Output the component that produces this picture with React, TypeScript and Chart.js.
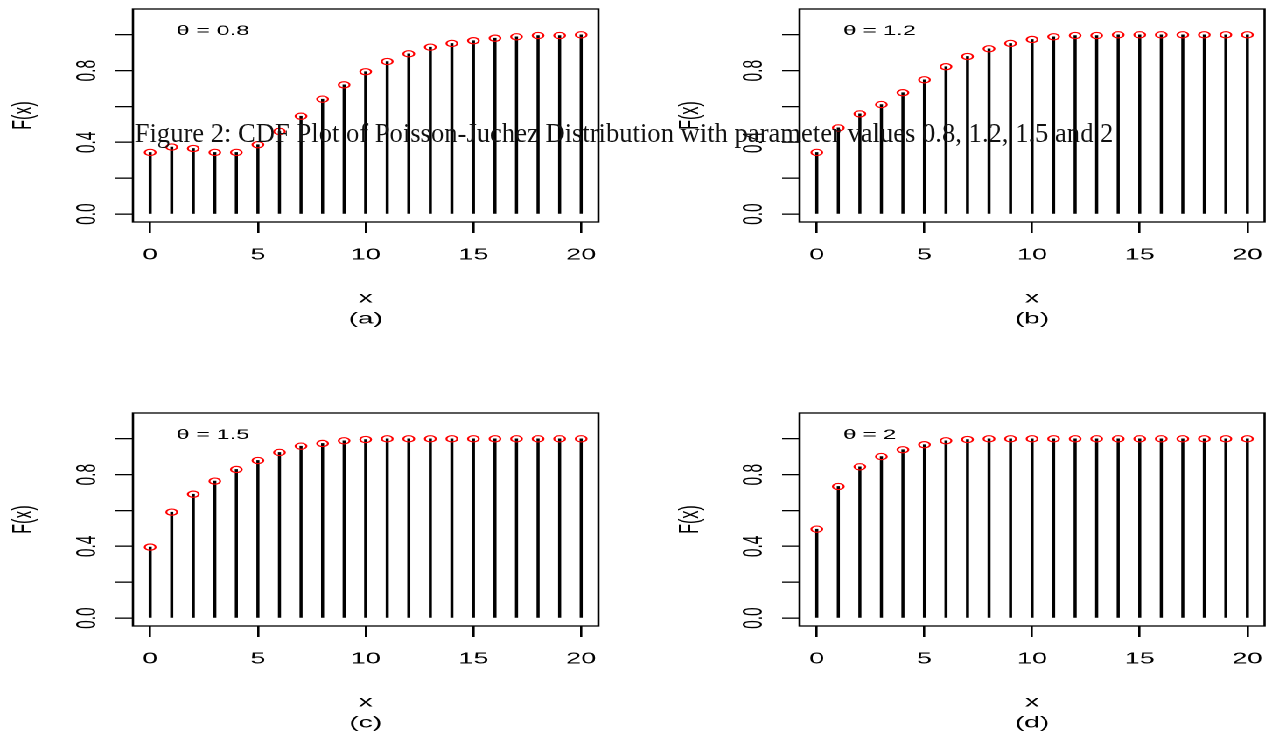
import React, { useEffect, useRef } from 'react';
import { Chart, registerables } from 'chart.js';

Chart.register(...registerables);

// ---------- data ----------
const xValues = [0, 1, 2, 3, 4, 5, 6, 7, 8, 9, 10, 11, 12, 13, 14, 15, 16, 17, 18, 19, 20];
const cdfTheta08 = [0.344, 0.374, 0.366, 0.344, 0.344, 0.387, 0.461, 0.546, 0.641, 0.721, 0.794, 0.851, 0.894, 0.931, 0.952, 0.967, 0.981, 0.989, 0.996, 0.996, 1.0];
const cdfTheta12 = [0.344, 0.481, 0.559, 0.611, 0.677, 0.749, 0.822, 0.879, 0.922, 0.952, 0.974, 0.989, 0.996, 0.996, 1.0, 1.0, 1.0, 1.0, 1.0, 1.0, 1.0];
const cdfTheta15 = [0.396, 0.591, 0.691, 0.764, 0.829, 0.879, 0.924, 0.959, 0.974, 0.989, 0.996, 1.0, 1.0, 1.0, 1.0, 1.0, 1.0, 1.0, 1.0, 1.0, 1.0];
const cdfTheta2 = [0.496, 0.734, 0.844, 0.901, 0.939, 0.967, 0.989, 0.996, 1.0, 1.0, 1.0, 1.0, 1.0, 1.0, 1.0, 1.0, 1.0, 1.0, 1.0, 1.0, 1.0];
const thetaLabels = ['0.8', '1.2', '1.5', '2'];
const panelLetters = ['(a)', '(b)', '(c)', '(d)'];
const xTickValues = [0, 5, 10, 15, 20];
const yTickValues = [0, 0.2, 0.4, 0.6, 0.8, 1.0];
const yTickLabels = ['0.0', '', '0.4', '', '0.8', ''];
const xAxisTitle = 'x';
const yAxisTitle = 'F(x)';
const figureTitle = 'Figure 2: CDF Plot of Poisson-Juchez Distribution with parameter values 0.8, 1.2, 1.5 and 2';

// ---------- layout ----------
const NATIVE_W = 727;
const STRETCH = 1272 / NATIVE_W;
const SANS = "'Liberation Sans', Arial, Helvetica, sans-serif";
const SERIF = "'Liberation Serif', 'Times New Roman', Times, serif";

const panelSeries = [cdfTheta08, cdfTheta12, cdfTheta15, cdfTheta2];
const panelPos = [
  { left: 0, top: 0, width: 350, padRight: 8 },
  { left: 381, top: 0, width: 346, padRight: 4 },
  { left: 0, top: 404, width: 350, padRight: 8 },
  { left: 381, top: 404, width: 346, padRight: 4 },
];
const PANEL_H = 330;

type PanelProps = {
  values: number[];
  theta: string;
  letter: string;
  left: number;
  top: number;
  width: number;
  padRight: number;
};

function zeroPad(s: any) {
  s.paddingTop = 0;
  s.paddingBottom = 0;
  s.paddingLeft = 0;
  s.paddingRight = 0;
}

function Panel({ values, theta, letter, left, top, width, padRight }: PanelProps) {
  const ref = useRef<HTMLCanvasElement | null>(null);

  useEffect(() => {
    const canvas = ref.current;
    if (!canvas) return;

    const boxPlugin = {
      id: 'rbox',
      afterDatasetsDraw(chart: any) {
        const { ctx, chartArea: a, scales } = chart;
        ctx.save();
        ctx.strokeStyle = '#000';
        ctx.lineWidth = 1.3;
        ctx.strokeRect(a.left, a.top, a.right - a.left, a.bottom - a.top);
        ctx.fillStyle = '#000';
        ctx.font = `13.5px ${SANS}`;
        ctx.textAlign = 'left';
        ctx.textBaseline = 'middle';
        ctx.fillText(`\u03b8 = ${theta}`, scales.x.getPixelForValue(1.22), scales.y.getPixelForValue(1.02));
        ctx.restore();
      },
    };

    const points = xValues.map((x, i) => ({ x, y: values[i] }));

    const chart = new Chart(canvas, {
      type: 'bar',
      data: {
        datasets: [
          {
            type: 'scatter',
            data: points,
            pointStyle: 'circle',
            pointRadius: 3.1,
            pointHoverRadius: 3.1,
            pointBorderWidth: 1.15,
            pointBorderColor: '#ff0000',
            pointBackgroundColor: 'rgba(0,0,0,0)',
            order: 0,
          } as any,
          {
            type: 'bar',
            data: points,
            backgroundColor: '#000',
            borderWidth: 0,
            barThickness: 1.1,
            order: 1,
          } as any,
        ],
      },
      options: {
        animation: false,
        responsive: true,
        maintainAspectRatio: false,
        devicePixelRatio: 2,
        events: [],
        layout: { padding: { left: 0, top: 9, right: padRight, bottom: 0.5 } },
        plugins: { legend: { display: false }, tooltip: { enabled: false } },
        scales: {
          x: {
            type: 'linear',
            min: -0.8,
            max: 20.8,
            bounds: 'data',
            offset: false,
            afterBuildTicks: (s: any) => {
              s.ticks = xTickValues.map((v) => ({ value: v }));
            },
            afterFit: (s: any) => {
              s.height = 107.5;
              zeroPad(s);
            },
            grid: { drawOnChartArea: false, drawTicks: true, tickLength: 11, color: '#000', lineWidth: 1.3, offset: false },
            border: { display: false },
            ticks: {
              autoSkip: false,
              minRotation: 0,
              maxRotation: 0,
              padding: 12.7,
              color: '#000',
              font: { family: SANS, size: 15.5 },
              callback: (v: any) => String(v),
            },
            title: {
              display: true,
              text: [xAxisTitle, letter],
              color: '#000',
              font: { family: SANS, size: 16, lineHeight: '21px' },
              padding: { top: 0, bottom: 0 },
            },
          },
          y: {
            type: 'linear',
            min: -0.044,
            max: 1.144,
            bounds: 'data',
            afterBuildTicks: (s: any) => {
              s.ticks = yTickValues.map((v) => ({ value: v }));
            },
            afterFit: (s: any) => {
              s.width = 76;
              zeroPad(s);
            },
            grid: { drawOnChartArea: false, drawTicks: true, tickLength: 10, color: '#000', lineWidth: 1.3 },
            border: { display: false },
            ticks: {
              autoSkip: false,
              minRotation: 90,
              maxRotation: 90,
              crossAlign: 'center',
              padding: 5,
              color: '#000',
              font: { family: SANS, size: 15.5 },
              callback: (_v: any, i: number) => yTickLabels[i],
            },
            title: {
              display: true,
              text: yAxisTitle,
              color: '#000',
              font: { family: SANS, size: 16 },
              padding: { top: 3.9, bottom: 0 },
            },
          },
        },
      } as any,
      plugins: [boxPlugin],
    });

    return () => chart.destroy();
  }, [values, theta, letter, padRight]);

  return (
    <div style={{ position: 'absolute', left, top, width, height: PANEL_H }}>
      <canvas ref={ref} />
    </div>
  );
}

export default function App() {
  useEffect(() => {
    document.body.style.margin = '0';
    document.body.style.overflow = 'hidden';
  }, []);

  return (
    <div style={{ position: 'absolute', left: 0, top: 0, width: 1272, height: 733, overflow: 'hidden', background: '#fff' }}>
      <div
        style={{
          position: 'absolute',
          left: 0,
          top: 0,
          width: NATIVE_W,
          height: 733,
          transform: `scaleX(${STRETCH})`,
          transformOrigin: '0 0',
        }}
      >
        {panelSeries.map((vals, i) => (
          <Panel
            key={i}
            values={vals}
            theta={thetaLabels[i]}
            letter={panelLetters[i]}
            left={panelPos[i].left}
            top={panelPos[i].top}
            width={panelPos[i].width}
            padRight={panelPos[i].padRight}
          />
        ))}
      </div>
      <div
        style={{
          position: 'absolute',
          left: 134.7,
          top: 120.4,
          fontFamily: SERIF,
          fontSize: 26.6,
          lineHeight: '26.6px',
          color: '#111',
          whiteSpace: 'nowrap',
        }}
      >
        {figureTitle}
      </div>
    </div>
  );
}
